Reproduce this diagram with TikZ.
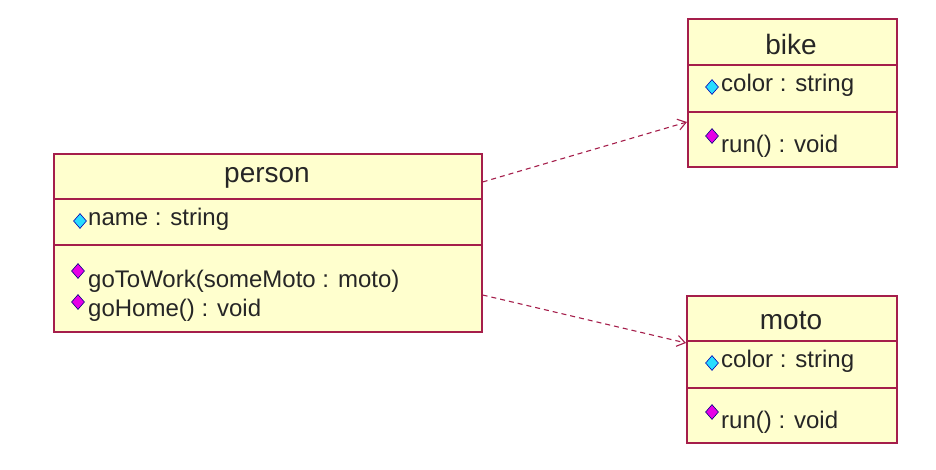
\documentclass[tikz,border=0pt]{standalone}
\usepackage{fontspec}
\setmainfont{Liberation Sans}
\usetikzlibrary{shapes.geometric,arrows.meta}
\definecolor{bd}{RGB}{165,30,75}
\definecolor{fl}{RGB}{255,255,206}
\definecolor{cy}{RGB}{40,220,255}
\definecolor{mg}{RGB}{230,0,230}
\tikzset{x=1pt,y=-1pt,
 box/.style={draw=bd,fill=fl,line width=1.6pt},
 sep/.style={draw=bd,line width=1.6pt},
 ttl/.style={font=\fontsize{28}{30}\selectfont,text=black!85},
 txt/.style={anchor=west,font=\fontsize{24}{26}\selectfont,text=black!85,inner sep=0pt},
 dep/.style={draw=bd,line width=1.1pt,dash pattern=on 5pt off 4pt,-{Straight Barb[length=8pt,width=11pt]}},
 attr/.style={diamond,draw=blue!70!black,fill=cy,inner sep=0pt,minimum width=13pt,minimum height=15pt,line width=0.6pt},
 meth/.style={diamond,draw=blue!50!black,fill=mg,inner sep=0pt,minimum width=13pt,minimum height=15pt,line width=0.6pt}}
\begin{document}
\begin{tikzpicture}
\useasboundingbox[fill=white] (0,0) rectangle (936,470);
% person
\node[box,minimum width=428pt,minimum height=178pt,inner sep=0pt,anchor=north west] (person) at (53,153) {};
\draw[sep] (53,199) -- (481,199) (53,245) -- (481,245);
\node[ttl] (pt) at (267,178) {person};
\node[attr] (pa) at (80,221) {};
\node[txt] (pn) at (88,219) {name : string};
\node[meth] (pm1) at (78,271) {};
\node[txt] (pg) at (88,281) {goToWork(someMoto : moto)};
\node[meth] (pm2) at (78,302) {};
\node[txt] (ph) at (88,310) {goHome() : void};
% bike
\node[box,minimum width=209pt,minimum height=148pt,inner sep=0pt,anchor=north west] (bike) at (687,18) {};
\draw[sep] (687,65) -- (896,65) (687,112) -- (896,112);
\node[ttl] (bt) at (791,44) {bike};
\node[attr] (ba) at (712,87) {};
\node[txt] (bc) at (721,85) {color : string};
\node[meth] (bm) at (712,136) {};
\node[txt] (br) at (721,146) {run() : void};
% moto
\node[box,minimum width=210pt,minimum height=147pt,inner sep=0pt,anchor=north west] (moto) at (686,295) {};
\draw[sep] (686,341) -- (896,341) (686,388) -- (896,388);
\node[ttl] (mt) at (791,321) {moto};
\node[attr] (ma) at (712,363) {};
\node[txt] (mc) at (721,361) {color : string};
\node[meth] (mm) at (712,412) {};
\node[txt] (mr) at (721,422) {run() : void};
% dependencies
\coordinate (p1) at (person.north east |- 0,182);
\coordinate (b1) at (bike.north west |- 0,122);
\coordinate (p2) at (person.north east |- 0,295);
\coordinate (m1) at (moto.north west |- 0,343);
\draw[dep] (p1) -- (b1);
\draw[dep] (p2) -- (m1);
\end{tikzpicture}
\end{document}
